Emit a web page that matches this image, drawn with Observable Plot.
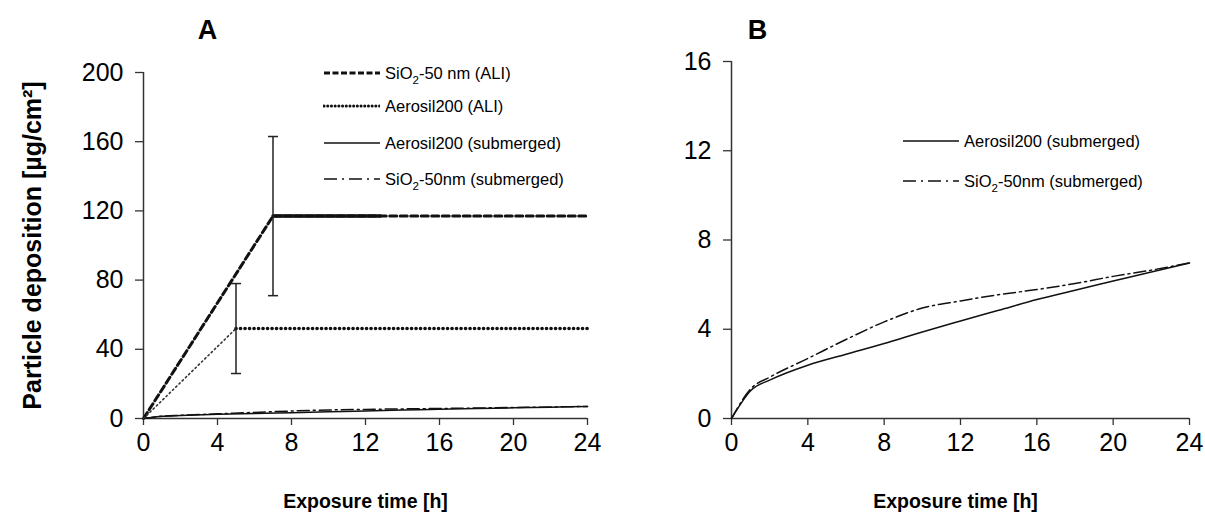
<!DOCTYPE html>
<html><head><meta charset="utf-8">
<script src="https://cdn.jsdelivr.net/npm/d3@7"></script>
<script src="https://cdn.jsdelivr.net/npm/@observablehq/plot@0.6"></script>
<style>
body{margin:0;background:#fff;font-family:"Liberation Sans",Arial,sans-serif;}
#wrap{position:relative;width:1205px;height:528px;overflow:hidden;}
.panel{position:absolute;top:0;}
.row{position:absolute;display:flex;align-items:center;white-space:nowrap;font-size:16.5px;color:#000;height:24px;}
.row svg{margin-right:5px;display:block}
sub{font-size:0.7em;vertical-align:-0.4em;line-height:0}
</style></head>
<body><div id="wrap"></div>
<script>
// ---- data ----
const hours = [0, 4, 8, 12, 16, 20, 24];
const ticksA = [0, 40, 80, 120, 160, 200];
const ticksB = [0, 4, 8, 12, 16];

// submerged exposure (same curves in A and B)
const subT        = [0, 1.03, 2, 4, 6, 8, 10, 12, 14, 16, 18, 20, 22, 24];
const aerosilSub  = [0, 1.27, 1.72, 2.39, 2.88, 3.36, 3.88, 4.37, 4.85, 5.33, 5.75, 6.16, 6.57, 6.97];
const sioSub      = [0, 1.35, 1.85, 2.69, 3.54, 4.33, 4.95, 5.27, 5.55, 5.78, 6.05, 6.37, 6.65, 6.97];

// ALI exposure
const sioAliT     = [0, 7, 24];
const sioAli      = [0, 117, 117];
const sioDenseT   = [7, 12.8];           // overlapping-marker run on the plateau
const aeroAliT    = [0, 5, 24];
const aeroAli     = [0, 52, 52];

// error bars (ALI)
const errT  = [7, 5];
const errLo = [71, 26];
const errHi = [163, 78];

// ---- helpers ----
const rows = (xs, ys) => xs.map((t, i) => ({t, v: ys[i]}));
const subAero = rows(subT, aerosilSub);
const subSio  = rows(subT, sioSub);
const aliSio  = rows(sioAliT, sioAli);
const aliSioDense = sioDenseT.map(t => ({t, v: sioAli[1]}));
const aliAero = rows(aeroAliT, aeroAli);
const errs = errT.map((t, i) => ({t, lo: errLo[i], hi: errHi[i]}));
const caps = errs.flatMap(d => [{t: d.t, v: d.lo}, {t: d.t, v: d.hi}]);

const capSymbol = {
  draw(ctx, size) {
    const r = Math.sqrt(size / Math.PI);
    ctx.moveTo(-r, 0); ctx.lineTo(r, 0);
  }
};

const INK = "#111";
const AX = "#333";
const FONT = "Liberation Sans, Arial, sans-serif";

function commonAxes(yTicks) {
  return [
    Plot.axisX({ticks: hours, tickSize: 7, tickPadding: 8, fontSize: 25, label: null, stroke: AX, strokeWidth: 1.3, fill: "#000", tickFormat: d => d}),
    Plot.axisY({ticks: yTicks, tickSize: 8, tickPadding: 12, fontSize: 25, label: null, stroke: AX, strokeWidth: 1.3, fill: "#000", tickFormat: d => d}),
    Plot.ruleY([0], {stroke: AX, strokeWidth: 1.5}),
    Plot.ruleX([0], {stroke: AX, strokeWidth: 1.5}),
  ];
}

const plotA = Plot.plot({
  width: 620, height: 528,
  marginLeft: 143, marginRight: 33, marginTop: 72, marginBottom: 110,
  x: {domain: [0, 24]},
  y: {domain: [0, 200]},
  style: {fontFamily: FONT, background: "transparent", overflow: "visible", color: "#000"},
  marks: [
    ...commonAxes(ticksA),
    Plot.line(subAero, {x: "t", y: "v", stroke: INK, strokeWidth: 1.5, curve: "monotone-x"}),
    Plot.line(subSio, {x: "t", y: "v", stroke: INK, strokeWidth: 1.5, curve: "monotone-x", strokeDasharray: "12,4,2,4"}),
    Plot.line(aliSio, {x: "t", y: "v", stroke: INK, strokeWidth: 3, strokeDasharray: "7,3.5"}),
    Plot.line(aliSioDense, {x: "t", y: "v", stroke: INK, strokeWidth: 3.5}),
    Plot.line(aliAero.slice(0, 2), {x: "t", y: "v", stroke: "#333", strokeWidth: 1.6, strokeDasharray: "1.5,3"}),
    Plot.line(aliAero.slice(1), {x: "t", y: "v", stroke: INK, strokeWidth: 3.6, strokeDasharray: "0.1,4.4", strokeLinecap: "round"}),
    Plot.ruleX(errs, {x: "t", y1: "lo", y2: "hi", stroke: "#222", strokeWidth: 1.5}),
    Plot.dot(caps, {x: "t", y: "v", symbol: capSymbol, r: 5, stroke: "#222", strokeWidth: 1.5, fill: "none"}),
    Plot.text(["A"], {frameAnchor: "top-left", textAnchor: "middle", lineAnchor: "middle", dx: 64, dy: -42, fontSize: 27, fontWeight: "bold", fill: "#000"}),
    Plot.text(["Particle deposition [µg/cm²]"], {frameAnchor: "left", textAnchor: "middle", lineAnchor: "middle", dx: -111, rotate: -90, fontSize: 25, fontWeight: "bold", fill: "#000"}),
    Plot.text(["Exposure time [h]"], {frameAnchor: "bottom", textAnchor: "middle", lineAnchor: "middle", dy: 83, fontSize: 19.5, fontWeight: "bold", fill: "#000"}),
  ]
});

const plotB = Plot.plot({
  width: 605, height: 528,
  marginLeft: 131, marginRight: 16, marginTop: 61, marginBottom: 110,
  x: {domain: [0, 24]},
  y: {domain: [0, 16]},
  style: {fontFamily: FONT, background: "transparent", overflow: "visible", color: "#000"},
  marks: [
    ...commonAxes(ticksB),
    Plot.line(subAero, {x: "t", y: "v", stroke: INK, strokeWidth: 1.5, curve: "monotone-x"}),
    Plot.line(subSio, {x: "t", y: "v", stroke: INK, strokeWidth: 1.5, curve: "monotone-x", strokeDasharray: "12,4,2,4"}),
    Plot.text(["B"], {frameAnchor: "top-left", textAnchor: "middle", lineAnchor: "middle", dx: 26, dy: -31, fontSize: 27, fontWeight: "bold", fill: "#000"}),
    Plot.text(["Exposure time [h]"], {frameAnchor: "bottom", textAnchor: "middle", lineAnchor: "middle", dx: -5, dy: 83, fontSize: 19.5, fontWeight: "bold", fill: "#000"}),
  ]
});

const wrap = document.getElementById("wrap");
const pa = document.createElement("div"); pa.className = "panel"; pa.style.left = "0px"; pa.appendChild(plotA); wrap.appendChild(pa);
const pb = document.createElement("div"); pb.className = "panel"; pb.style.left = "600px"; pb.appendChild(plotB); wrap.appendChild(pb);

// ---- legends ----
const swatch = {
  sioAli:  {w: 3,   dash: "6,2.5", cap: "butt"},
  aeroAli: {w: 3,   dash: "0.1,3.6", cap: "round"},
  aeroSub: {w: 1.5, dash: null, cap: "butt"},
  sioSub:  {w: 1.5, dash: "13,5,2,5", cap: "butt"},
};
function addRow(x, y, key, html) {
  const s = swatch[key];
  const row = document.createElement("div");
  row.className = "row";
  row.style.left = x + "px";
  row.style.top = (y - 12) + "px";
  row.innerHTML = `<svg width="57" height="10"><line x1="1" y1="5" x2="57" y2="5" stroke="${INK}" stroke-width="${s.w}" ${s.dash ? `stroke-dasharray="${s.dash}"` : ""} stroke-linecap="${s.cap}"/></svg><span>${html}</span>`;
  wrap.appendChild(row);
}
const legendA = [
  ["sioAli", "SiO<sub>2</sub>-50 nm (ALI)"],
  ["aeroAli", "Aerosil200 (ALI)"],
  ["aeroSub", "Aerosil200 (submerged)"],
  ["sioSub", "SiO<sub>2</sub>-50nm (submerged)"],
];
const legendAY = [73, 106, 143, 179];
legendA.forEach(([k, h], i) => addRow(323, legendAY[i], k, h));
const legendB = [
  ["aeroSub", "Aerosil200 (submerged)"],
  ["sioSub", "SiO<sub>2</sub>-50nm (submerged)"],
];
const legendBY = [141, 181];
legendB.forEach(([k, h], i) => addRow(902, legendBY[i], k, h));
</script>
</body></html>
